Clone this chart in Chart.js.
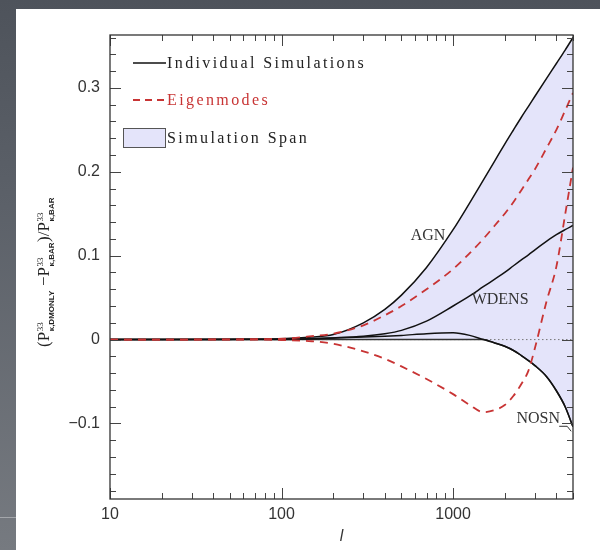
<!DOCTYPE html>
<html><head><meta charset="utf-8">
<script src="https://cdn.jsdelivr.net/npm/chart.js@4.4.1/dist/chart.umd.min.js"></script>
<style>
html,body{margin:0;padding:0;width:600px;height:550px;overflow:hidden;
background:linear-gradient(180deg,#4e535b 0%,#5b6068 35%,#767a80 100%);}
#panel{position:absolute;left:16px;top:9px;width:584px;height:541px;background:#fff;}
#strip{position:absolute;left:0;top:517px;width:16px;height:1px;background:rgba(255,255,255,0.35);}
#c{position:absolute;left:0;top:0;}
</style></head><body>
<div id="panel"></div>
<div id="strip"></div>
<canvas id="c" width="600" height="550"></canvas>
<script>
// ---- data ----
const ells     = [10,20,50,100,150,200,300,400,500,700,1000,1250,1500,1750,2000,2250,2500,2750,3000,3500,4000,4500,5000];
const simAGN   = [0,0,0.0003,0.001,0.003,0.006,0.020,0.036,0.053,0.086,0.131,0.163,0.190,0.213,0.233,0.250,0.265,0.278,0.290,0.311,0.329,0.345,0.360];
const simWDENS = [0,0,0.0002,0.0005,0.001,0.002,0.004,0.007,0.011,0.022,0.040,0.052,0.063,0.072,0.080,0.088,0.095,0.101,0.107,0.117,0.125,0.131,0.136];
const simNOSN  = [0,0,0,0,0.001,0.002,0.003,0.004,0.005,0.007,0.008,0.005,0.000,-0.004,-0.008,-0.013,-0.019,-0.025,-0.031,-0.044,-0.061,-0.080,-0.104];
const eigen1   = [0,0,0.0003,0.001,0.004,0.007,0.017,0.029,0.040,0.060,0.084,0.103,0.120,0.136,0.150,0.164,0.178,0.191,0.203,0.228,0.250,0.273,0.294];
const eigen2   = [0,0,0,-0.0005,-0.002,-0.005,-0.014,-0.023,-0.032,-0.047,-0.065,-0.078,-0.0865,-0.084,-0.078,-0.067,-0.053,-0.037,-0.010,0.045,0.087,0.149,0.205];
const spanLow  = [0,0,0,0,0,0,0,0,0,0,0,0,0,-0.004,-0.008,-0.013,-0.019,-0.025,-0.031,-0.044,-0.061,-0.080,-0.104];
const zeroEll  = [10,5000];
const zeroVal  = [0,0];

const xTickValues = [10,100,1000];
const xMinorValues = [20,30,40,50,60,70,80,90,200,300,400,500,600,700,800,900,2000,3000,4000,5000];
const yTickValues = [-0.1,0,0.1,0.2,0.3];
const yMinorValues = [-0.18,-0.16,-0.14,-0.12,-0.08,-0.06,-0.04,-0.02,0.02,0.04,0.06,0.08,0.12,0.14,0.16,0.18,0.22,0.24,0.26,0.28,0.32,0.34,0.36];

const curveLabels = [
  {text:'AGN',   l:714,  v:0.124},
  {text:'WDENS', l:1879, v:0.048},
  {text:'NOSN',  l:3133, v:-0.095}
];

const RED = 'rgb(200,52,52)';
const SPAN = 'rgb(228,228,250)';

const pts = (xs, ys) => xs.map((x,i)=>({x, y:ys[i]}));

const common = {pointRadius:0, cubicInterpolationMode:'monotone', fill:false};

const datasets = [
  {...common, label:'Eigenmode 1', data:pts(ells,eigen1), borderColor:RED, borderWidth:1.8, borderDash:[8,6]},
  {...common, label:'Eigenmode 2', data:pts(ells,eigen2), borderColor:RED, borderWidth:1.8, borderDash:[8,6]},
  {...common, label:'AGN', data:pts(ells,simAGN), borderColor:'#111', borderWidth:1.5, fill:5, backgroundColor:SPAN},
  {...common, label:'WDENS', data:pts(ells,simWDENS), borderColor:'#111', borderWidth:1.5},
  {...common, label:'NOSN', data:pts(ells,simNOSN), borderColor:'#111', borderWidth:1.5},
  {...common, label:'span low', data:pts(ells,spanLow), borderColor:'#333', borderWidth:1.5},
  {...common, label:'zero', data:pts(zeroEll,zeroVal), borderColor:'#777', borderWidth:1, borderDash:[1.5,2.5], cubicInterpolationMode:'default'}
];

function drawYTitle(ctx, cx, cy){
  const mainF = '17px "Liberation Serif"';
  const supF = '9px "Liberation Serif"';
  const subF = 'bold 8px "Liberation Sans"';
  const parts = [
    {t:'('}, {t:'P'}, {sup:'33', sub:'κ,DMONLY'}, {t:' −'}, {t:'P'}, {sup:'33', sub:'κ,BAR'},
    {t:')'}, {t:'/'}, {t:'P'}, {sup:'33', sub:'κ,BAR'}
  ];
  let total = 0;
  for (const p of parts){
    if (p.t){ ctx.font = mainF; p.w = ctx.measureText(p.t).width; }
    else { ctx.font = supF; const a = ctx.measureText(p.sup).width; ctx.font = subF; const b = ctx.measureText(p.sub).width; p.w = Math.max(a,b)+1; }
    total += p.w;
  }
  ctx.save();
  ctx.translate(cx, cy + total/2);
  ctx.rotate(-Math.PI/2);
  ctx.fillStyle = '#222';
  ctx.textBaseline = 'alphabetic';
  ctx.textAlign = 'left';
  let xx = 0;
  for (const p of parts){
    if (p.t){ ctx.font = mainF; ctx.fillText(p.t, xx, 0); }
    else {
      ctx.font = supF; ctx.fillText(p.sup, xx+0.5, -6);
      ctx.font = subF; ctx.fillText(p.sub, xx+0.5, 5);
    }
    xx += p.w;
  }
  ctx.restore();
}

const deco = {
  id:'deco',
  afterDraw(chart){
    const {ctx, chartArea:a, scales:{x, y}} = chart;
    ctx.save();
    // inward ticks
    ctx.strokeStyle = '#444'; ctx.lineWidth = 1;
    ctx.beginPath();
    const vt = (v, len) => { const p = Math.round(x.getPixelForValue(v))+0.5;
      ctx.moveTo(p, a.bottom); ctx.lineTo(p, a.bottom-len); ctx.moveTo(p, a.top); ctx.lineTo(p, a.top+len); };
    const ht = (v, len) => { const p = Math.round(y.getPixelForValue(v))+0.5;
      ctx.moveTo(a.left, p); ctx.lineTo(a.left+len, p); ctx.moveTo(a.right, p); ctx.lineTo(a.right-len, p); };
    xTickValues.forEach(v=>vt(v,11)); xMinorValues.forEach(v=>vt(v,6));
    yTickValues.forEach(v=>ht(v,11)); yMinorValues.forEach(v=>ht(v,6));
    ctx.stroke();
    // frame
    ctx.strokeStyle = '#333'; ctx.lineWidth = 1.3;
    ctx.strokeRect(a.left, a.top, a.right-a.left, a.bottom-a.top);

    // curve labels
    ctx.fillStyle = '#333';
    ctx.font = '16px "Liberation Serif"';
    ctx.textAlign = 'center'; ctx.textBaseline = 'middle';
    for (const c of curveLabels){
      ctx.fillText(c.text, x.getPixelForValue(c.l), y.getPixelForValue(c.v));
    }
    // NOSN leader
    const nx = x.getPixelForValue(3133), ny = y.getPixelForValue(-0.095);
    ctx.strokeStyle = '#333'; ctx.lineWidth = 1;
    ctx.beginPath(); ctx.moveTo(nx+21, ny+7); ctx.lineTo(nx+29, ny+7); ctx.lineTo(nx+33, ny+12); ctx.stroke();

    // legend
    const L = a.left;
    ctx.textAlign = 'left'; ctx.textBaseline = 'alphabetic';
    ctx.font = '16px "Liberation Serif"';
    ctx.letterSpacing = '2.4px';
    ctx.strokeStyle = '#111'; ctx.lineWidth = 1.5;
    ctx.beginPath(); ctx.moveTo(L+23, a.top+28); ctx.lineTo(L+56, a.top+28); ctx.stroke();
    ctx.fillStyle = '#222';
    ctx.fillText('Individual Simulations', L+57, a.top+33);
    ctx.strokeStyle = RED; ctx.lineWidth = 1.8; ctx.setLineDash([7,5]);
    ctx.beginPath(); ctx.moveTo(L+23, a.top+65); ctx.lineTo(L+57, a.top+65); ctx.stroke();
    ctx.setLineDash([]);
    ctx.fillStyle = RED;
    ctx.fillText('Eigenmodes', L+57, a.top+70);
    ctx.fillStyle = SPAN; ctx.fillRect(L+13, a.top+93, 42, 19);
    ctx.strokeStyle = '#555'; ctx.lineWidth = 1; ctx.strokeRect(L+13.5, a.top+93.5, 42, 19);
    ctx.fillStyle = '#222';
    ctx.fillText('Simulation Span', L+57, a.top+108);
    ctx.letterSpacing = '0px';

    // y title
    drawYTitle(ctx, 49, 272);
    ctx.restore();
  }
};

const tickFont = {family:'"Liberation Sans", Arial, sans-serif', size:16};

new Chart(document.getElementById('c'), {
  type:'line',
  data:{datasets},
  options:{
    responsive:false, animation:false,
    layout:{padding:{left:0, top:35, right:27, bottom:0}},
    plugins:{legend:{display:false}, tooltip:{enabled:false}, filler:{drawTime:'beforeDatasetsDraw', propagate:false}},
    elements:{line:{borderCapStyle:'butt'}},
    scales:{
      x:{type:'logarithmic', min:10, max:5000,
        grid:{display:false, drawTicks:false}, border:{display:false},
        ticks:{font:tickFont, color:'#333', padding:6, maxRotation:0, autoSkip:false, callback:(v)=>String(v)},
        afterBuildTicks:(s)=>{ s.ticks = xTickValues.map(v=>({value:v})); },
        afterFit:(s)=>{ s.height = 51; },
        title:{display:true, text:'l', font:{family:'"DejaVu Sans"', size:15, style:'italic'}, color:'#333', padding:{top:0,bottom:4}}
      },
      y:{type:'linear', min:-0.19, max:0.363,
        grid:{display:false, drawTicks:false}, border:{display:false},
        ticks:{font:tickFont, color:'#333', padding:10, callback:(v)=> v<0 ? '−'+Math.abs(v).toString() : String(v)},
        afterBuildTicks:(s)=>{ s.ticks = yTickValues.map(v=>({value:v})); },
        afterFit:(s)=>{ s.width = 110; }
      }
    }
  },
  plugins:[deco]
});
</script>
</body></html>
